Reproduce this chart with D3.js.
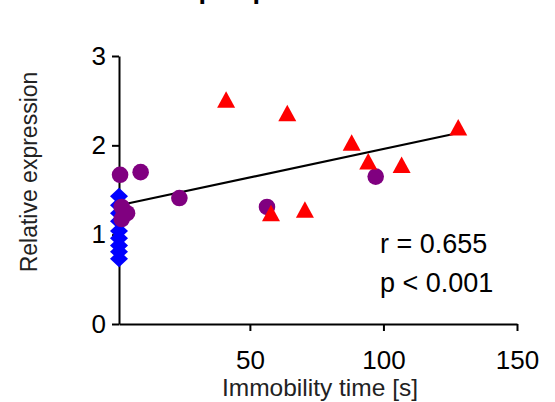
<!DOCTYPE html>
<html>
<head>
<meta charset="utf-8">
<script src="https://cdn.jsdelivr.net/npm/d3@7"></script>
<style>
  html, body { margin: 0; padding: 0; background: #fff; }
  svg { display: block; }
  text { font-family: "Liberation Sans", Arial, sans-serif; }
</style>
</head>
<body>
<script>
// ---- data ----
const diamondX = [1, 1, 1, 1, 1, 1, 1, 1, 1];
const diamondY = [1.43, 1.33, 1.24, 1.15, 1.04, 0.96, 0.88, 0.81, 0.73];

const circleX = [1.4, 9.1, 23.6, 2.0, 4.0, 2.0, 56.4, 97.1];
const circleY = [1.67, 1.70, 1.41, 1.31, 1.24, 1.175, 1.31, 1.65];

const triangleX = [41.1, 64.0, 57.9, 70.6, 88.1, 94.3, 106.8, 128.0];
const triangleY = [2.51, 2.36, 1.24, 1.28, 2.03, 1.82, 1.78, 2.20];

const fitX = [2, 128];
const fitY = [1.335, 2.138];

const xTicks = [50, 100, 150];
const yTicks = [0, 1, 2, 3];
const statLabels = ["r = 0.655", "p < 0.001"];
const titleText = "Grp78 protein";
const xLabel = "Immobility time [s]";
const yLabel = "Relative expression";

// ---- chart ----
const W = 555, H = 402;
const svg = d3.select("body").append("svg").attr("width", W).attr("height", H);

const x = d3.scaleLinear().domain([1, 150]).range([119, 517]);
const y = d3.scaleLinear().domain([0, 3]).range([324, 56]);

// partially visible title (cut off at top in the reference)
svg.append("text")
  .attr("x", 167).attr("y", -2.5)
  .attr("font-size", 27).attr("font-weight", "bold")
  .text(titleText);

// axes
const xAxis = d3.axisBottom(x).tickValues(xTicks).tickFormat(d3.format("d"))
  .tickSize(7).tickPadding(20).tickSizeOuter(0);
const gx = svg.append("g").attr("transform", `translate(0,${y(0)})`).call(xAxis);
const yAxis = d3.axisLeft(y).tickValues(yTicks).tickFormat(d3.format("d"))
  .tickSize(7).tickPadding(6).tickSizeOuter(0);
const gy = svg.append("g").attr("transform", `translate(${x(1)},0)`).call(yAxis);

[gx, gy].forEach(g => {
  g.select(".domain").attr("stroke", "#000").attr("stroke-width", 2);
  g.selectAll(".tick line").attr("stroke", "#000").attr("stroke-width", 2);
  g.selectAll(".tick text").attr("fill", "#000").attr("font-size", 26)
    .attr("font-family", "Liberation Sans, Arial, sans-serif");
});

// fit line
svg.append("line")
  .attr("x1", x(fitX[0])).attr("y1", y(fitY[0]))
  .attr("x2", x(fitX[1])).attr("y2", y(fitY[1]))
  .attr("stroke", "#000").attr("stroke-width", 2.2);

// diamonds
svg.append("g").selectAll("path").data(diamondX.map((d, i) => [d, diamondY[i]]))
  .join("path")
  .attr("transform", d => `translate(${x(d[0])},${y(d[1])})`)
  .attr("d", "M0,-8.5L9,0L0,8.5L-9,0Z")
  .attr("fill", "#0000ff");

// circles
svg.append("g").selectAll("circle").data(circleX.map((d, i) => [d, circleY[i]]))
  .join("circle")
  .attr("cx", d => x(d[0])).attr("cy", d => y(d[1]))
  .attr("r", 8.3)
  .attr("fill", "#800080");

// triangles
svg.append("g").selectAll("path").data(triangleX.map((d, i) => [d, triangleY[i]]))
  .join("path")
  .attr("transform", d => `translate(${x(d[0])},${y(d[1])})`)
  .attr("d", "M0,-8.5L9,8L-9,8Z")
  .attr("fill", "#ff0000");

// stats text
svg.append("g").selectAll("text").data(statLabels).join("text")
  .attr("x", 380).attr("y", (d, i) => 253 + i * 39)
  .attr("font-size", 27).attr("fill", "#000")
  .text(d => d);

// axis labels
svg.append("text")
  .attr("x", 320).attr("y", 396)
  .attr("text-anchor", "middle").attr("font-size", 24.5).attr("fill", "#222")
  .text(xLabel);

svg.append("text")
  .attr("transform", "translate(37,172) rotate(-90)")
  .attr("text-anchor", "middle").attr("font-size", 23).attr("fill", "#222")
  .text(yLabel);
</script>
</body>
</html>
